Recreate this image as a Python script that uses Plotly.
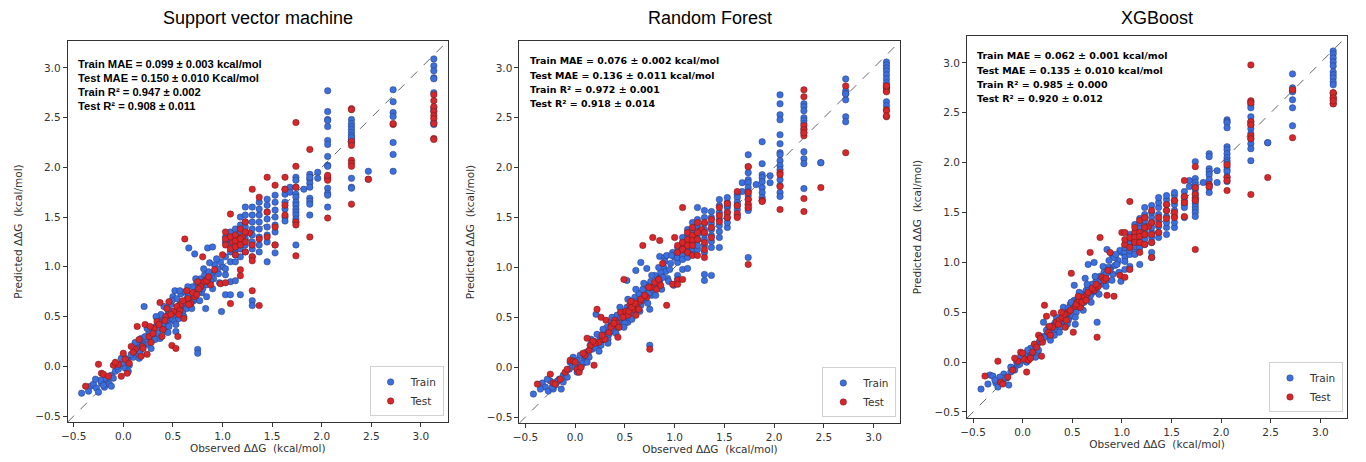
import plotly.graph_objects as go

# model names / panel titles
models = ["Support vector machine", "Random Forest", "XGBoost"]

metric_lines = [
    ["Train MAE = 0.099 ± 0.003 kcal/mol", "Test MAE = 0.150 ± 0.010 Kcal/mol",
     "Train R² = 0.947 ± 0.002", "Test R² = 0.908 ± 0.011"],
    ["Train MAE = 0.076 ± 0.002 kcal/mol", "Test MAE = 0.136 ± 0.011 kcal/mol",
     "Train R² = 0.972 ± 0.001", "Test R² = 0.918 ± 0.014"],
    ["Train MAE = 0.062 ± 0.001 kcal/mol", "Test MAE = 0.135 ± 0.010 kcal/mol",
     "Train R² = 0.985 ± 0.000", "Test R² = 0.920 ± 0.012"],
]

tick_vals = [-0.5, 0.0, 0.5, 1.0, 1.5, 2.0, 2.5, 3.0]
tick_text = ["−0.5", "0.0", "0.5", "1.0", "1.5", "2.0", "2.5", "3.0"]
axis_lims = [-0.56, 3.27]

# observed ddG, training set
obs_train = [
    -0.42, -0.33, -0.30, -0.27, -0.25, -0.22, -0.19, -0.16, -0.14, -0.12,
    -0.10, -0.08, -0.05, -0.03, 0.00, 0.02, 0.04, 0.06, 0.09, 0.11,
    0.13, 0.15, 0.17, 0.19, 0.21, 0.23, 0.25, 0.27, 0.29, 0.31,
    0.33, 0.35, 0.37, 0.39, 0.41, 0.43, 0.45, 0.47, 0.49, 0.51,
    0.52, 0.53, 0.55, 0.57, 0.59, 0.61, 0.63, 0.65, 0.67, 0.69,
    0.71, 0.73, 0.75, 0.75, 0.77, 0.79, 0.81, 0.83, 0.85, 0.87,
    0.89, 0.91, 0.93, 0.96, 0.99, 1.00, 0.66, 0.72, 0.85, 0.90,
    0.40, 0.44, 0.48, 0.56, 0.60, 0.64, 0.68, 0.30, 0.20, 0.10,
    -0.20, 0.50, 0.54, 0.58,
    0.02, 0.08, 0.14, 0.18, 0.22, 0.26, 0.32, 0.34, 0.36, 0.38,
    0.42, 0.44, 0.46, 0.48, 0.50, 0.52, 0.54, 0.56, 0.58, 0.60,
    0.62, 0.64, 0.66, 0.68, 0.70, 0.72, 0.74, 0.76, 0.78, 0.80,
    0.82, 0.84, 0.86, 0.88, 0.92, 0.95, 0.98, -0.18, -0.23, -0.06,
    -0.35, -0.28, -0.12, -0.02, 0.05, 0.12, 0.16, 0.24, 0.28, 0.33,
    0.37, 0.41, 0.45, 0.49, 0.53, 0.57, 0.61, 0.65, 0.69, 0.73,
    0.77, 0.81, 0.84, 0.87, 0.90, 0.94, 0.97, 0.46, 0.62, 0.79,
    1.03, 1.03, 1.03, 1.03, 1.03, 1.03,
    1.08, 1.08, 1.08, 1.08, 1.08, 1.08, 1.08,
    1.13, 1.13, 1.13, 1.13, 1.13, 1.13, 1.13,
    1.18, 1.18, 1.18, 1.18, 1.18, 1.18, 1.18, 1.18,
    1.23, 1.23, 1.23, 1.23, 1.23, 1.23, 1.23, 1.23,
    1.30, 1.30, 1.30, 1.30, 1.30, 1.30, 1.30, 1.30, 1.30, 1.30,
    1.37, 1.37, 1.37, 1.37, 1.37, 1.37, 1.37, 1.37,
    1.45, 1.45, 1.45, 1.45, 1.45, 1.45, 1.45, 1.45,
    1.53, 1.53, 1.53, 1.53, 1.53, 1.53, 1.53, 1.53,
    1.63, 1.63, 1.63, 1.63, 1.63, 1.63,
    1.68, 1.68,
    1.74, 1.74, 1.74, 1.74, 1.74, 1.74, 1.74, 1.74, 1.74, 1.74, 1.74, 1.74, 1.74,
    1.82,
    1.88, 1.88, 1.88, 1.88, 1.88, 1.88, 1.88, 1.88, 1.88,
    1.96, 1.96,
    2.06, 2.06, 2.06, 2.06, 2.06, 2.06, 2.06, 2.06, 2.06, 2.06, 2.06, 2.06, 2.06, 2.06, 2.06,
    2.30, 2.30, 2.30, 2.30, 2.30, 2.30, 2.30, 2.30, 2.30, 2.30, 2.30, 2.30,
    2.47, 2.47,
    2.72, 2.72, 2.72, 2.72, 2.72, 2.72, 2.72,
    3.13, 3.13, 3.13, 3.13, 3.13, 3.13, 3.13, 3.13, 3.13, 3.13,
]

pred_train_svm = [
    -0.27, -0.20, -0.18, -0.22, -0.26, -0.17, -0.21, -0.15, -0.18, -0.09,
    -0.12, -0.05, -0.03, 0.02, 0.03, -0.02, 0.06, 0.01, 0.10, 0.12,
    0.16, 0.20, 0.14, 0.24, 0.60, 0.28, 0.22, 0.31, 0.26, 0.35,
    0.40, 0.33, 0.45, 0.38, 0.48, 0.42, 0.52, 0.46, 0.55, 0.50,
    0.76, 0.35, 0.58, 0.62, 0.55, 0.65, 0.60, 0.70, 0.63, 0.72,
    0.66, 0.78, 0.17, 0.13, 0.82, 0.74, 0.86, 0.58, 0.90, 0.84,
    0.92, 0.88, 0.95, 0.93, 0.55, 1.00, 1.19, 1.13, 1.19, 1.20,
    0.43, 0.47, 0.52, 0.54, 0.62, 0.67, 0.68, 0.31, 0.21, 0.09,
    -0.19, 0.47, 0.56, 0.59,
    0.08, 0.12, 0.24, 0.28, 0.30, 0.34, 0.27, 0.48, 0.40, 0.52,
    0.36, 0.58, 0.40, 0.62, 0.70, 0.45, 0.68, 0.48, 0.73, 0.55,
    0.75, 0.58, 0.72, 0.62, 0.80, 0.68, 0.84, 0.75, 0.88, 0.78,
    0.92, 0.82, 0.95, 0.86, 1.02, 0.98, 1.05, -0.12, -0.14, 0.00,
    -0.25, -0.13, -0.20, 0.08, -0.05, 0.24, 0.08, 0.38, 0.18, 0.50,
    0.28, 0.60, 0.34, 0.66, 0.42, 0.76, 0.50, 0.80, 0.58, 0.88,
    0.66, 0.98, 0.70, 1.04, 0.78, 1.08, 0.84, 0.56, 0.64, 0.84,
    1.10, 0.98, 1.25, 0.92, 1.30, 0.72,
    1.05, 1.15, 1.22, 0.85, 1.28, 1.35, 0.72,
    1.12, 1.18, 1.25, 1.30, 1.38, 1.05, 0.86,
    1.10, 1.18, 1.24, 1.30, 1.35, 1.42, 1.50, 0.72,
    1.15, 1.22, 1.28, 1.34, 1.40, 1.45, 1.52, 1.60,
    1.10, 1.18, 1.25, 1.32, 1.38, 1.45, 1.52, 1.60, 0.66, 0.61,
    1.15, 1.22, 1.30, 1.38, 1.45, 1.52, 1.58, 1.65,
    1.05, 1.25, 1.32, 1.40, 1.48, 1.55, 1.62, 1.68,
    1.14, 1.22, 1.35, 1.42, 1.50, 1.57, 1.65, 1.72,
    1.78, 1.73, 1.65, 1.58, 1.50, 1.46,
    1.80, 1.75,
    1.90, 1.87, 1.80, 1.73, 1.70, 1.65, 1.62, 1.58, 1.55, 1.52, 1.48, 1.45, 1.22,
    1.78,
    1.93, 1.88, 1.84, 1.80, 1.69, 1.66, 1.63, 1.52, 1.90,
    1.95, 1.89,
    2.77, 2.56, 2.48, 2.47, 2.41, 2.27, 2.23, 2.11, 2.02, 2.01, 1.90, 1.79, 1.74, 1.72, 1.60,
    2.48, 2.44, 2.41, 2.38, 2.35, 2.32, 2.28, 2.25, 1.89, 1.80, 1.79, 2.30,
    1.96, 1.88,
    2.78, 2.66, 2.55, 2.51, 2.25, 2.13, 1.96,
    3.09, 3.02, 2.97, 2.90, 2.89, 2.75, 2.60, 2.57, 2.45, 2.43,
]

pred_train_rf = [
    -0.27, -0.16, -0.20, -0.24, -0.14, -0.22, -0.16, -0.12, -0.22, -0.08,
    -0.06, -0.10, 0.05, 0.04, 0.00, 0.07, -0.03, 0.02, 0.08, 0.15,
    0.13, 0.22, 0.18, 0.26, 0.53, 0.20, 0.30, 0.27, 0.35, 0.32,
    0.28, 0.40, 0.38, 0.45, 0.42, 0.50, 0.47, 0.42, 0.55, 0.52,
    0.87, 0.45, 0.60, 0.57, 0.63, 0.97, 0.66, 0.62, 0.70, 0.67,
    0.75, 0.80, 0.22, 0.58, 0.72, 0.84, 0.80, 0.90, 0.86, 0.92,
    1.00, 0.96, 0.89, 1.04, 0.82, 1.10, 1.05, 0.99, 1.11, 1.10,
    0.39, 0.46, 0.49, 0.56, 0.60, 0.64, 0.72, 0.31, 0.20, 0.11,
    -0.18, 0.50, 0.53, 0.59,
    -0.05, 0.04, 0.10, 0.25, 0.33, 0.22, 0.40, 0.33, 0.45, 0.36,
    0.52, 0.40, 0.56, 0.53, 0.44, 0.60, 0.50, 0.66, 0.55, 0.70,
    0.58, 0.74, 0.62, 0.78, 0.68, 0.82, 0.74, 0.86, 0.78, 0.92,
    0.84, 0.88, 0.95, 0.90, 1.12, 0.98, 1.15, -0.14, -0.20, -0.02,
    -0.22, -0.12, -0.15, 0.10, 0.12, 0.05, 0.28, 0.16, 0.38, 0.24,
    0.50, 0.34, 0.60, 0.40, 0.68, 0.48, 0.78, 0.56, 0.84, 0.64,
    0.92, 0.72, 1.00, 0.78, 1.06, 0.86, 1.12, 0.50, 0.66, 0.80,
    1.13, 1.05, 1.20, 0.92, 1.10, 0.88,
    1.12, 1.18, 1.25, 0.98, 1.30, 1.08, 1.22,
    1.15, 1.20, 1.27, 1.33, 1.38, 1.10, 0.99,
    1.14, 1.19, 1.25, 1.30, 1.36, 1.40, 1.45, 1.22,
    1.18, 1.22, 1.28, 1.33, 1.38, 1.42, 1.48, 1.60,
    1.15, 1.22, 1.28, 1.33, 1.38, 1.44, 1.50, 1.57, 0.87, 0.93,
    1.20, 1.26, 1.32, 1.38, 1.44, 1.50, 1.56, 0.92,
    1.20, 1.30, 1.36, 1.42, 1.48, 1.55, 1.62, 1.68,
    1.40, 1.45, 1.50, 1.55, 1.60, 1.65, 1.70, 1.62,
    1.73, 1.70, 1.65, 1.62, 1.58, 1.52,
    1.85, 1.76,
    2.13, 2.01, 1.95, 1.88, 1.85, 1.80, 1.76, 1.72, 1.68, 1.63, 1.59, 1.57, 1.10,
    1.83,
    2.26, 2.04, 1.93, 1.90, 1.86, 1.80, 1.75, 1.70, 1.67,
    1.92, 1.85,
    2.73, 2.64, 2.53, 2.48, 2.33, 2.24, 2.15, 2.13, 2.07, 2.02, 1.98, 1.88, 1.82, 1.75, 1.71,
    2.64, 2.61, 2.57, 2.50, 2.47, 2.44, 2.39, 2.35, 2.16, 2.09, 2.04, 1.79,
    2.05, 2.05,
    2.89, 2.77, 2.74, 2.68, 2.51, 2.46, 2.74,
    3.06, 3.03, 3.00, 2.97, 2.93, 2.89, 2.85, 2.80, 2.66, 2.62,
]

pred_train_xgb = [
    -0.27, -0.13, -0.14, -0.21, -0.25, -0.19, -0.12, -0.16, -0.23, -0.10,
    -0.06, -0.08, -0.03, -0.02, 0.02, 0.05, 0.00, 0.06, 0.08, 0.12,
    0.05, 0.18, 0.21, 0.22, 0.40, 0.26, 0.28, 0.33, 0.30, 0.37,
    0.31, 0.41, 0.36, 0.44, 0.40, 0.47, 0.50, 0.45, 0.52, 0.56,
    0.77, 0.38, 0.57, 0.61, 0.58, 0.66, 0.84, 0.64, 0.68, 0.72,
    0.70, 0.76, 0.40, 0.74, 0.80, 0.78, 0.85, 0.90, 0.82, 0.92,
    0.95, 0.88, 0.97, 1.02, 0.81, 1.10, 0.98, 1.00, 1.13, 1.08,
    0.42, 0.43, 0.50, 0.55, 0.62, 0.65, 0.67, 0.29, 0.22, 0.10,
    -0.20, 0.48, 0.53, 0.60,
    0.08, 0.14, 0.10, 0.26, 0.25, 0.35, 0.27, 0.45, 0.38, 0.35,
    0.50, 0.52, 0.42, 0.58, 0.47, 0.62, 0.50, 0.64, 0.58, 0.68,
    0.60, 0.72, 0.76, 0.66, 0.78, 0.72, 0.82, 0.78, 0.86, 0.84,
    0.90, 0.88, 0.95, 0.92, 1.05, 0.98, 1.12, -0.16, -0.15, 0.00,
    -0.22, -0.18, -0.05, 0.06, 0.12, 0.18, 0.12, 0.32, 0.22, 0.40,
    0.30, 0.55, 0.38, 0.60, 0.45, 0.70, 0.52, 0.78, 0.60, 0.86,
    0.68, 0.96, 0.76, 1.02, 0.82, 1.08, 0.90, 0.54, 0.64, 0.82,
    1.10, 1.05, 1.18, 0.93, 1.15, 1.01,
    1.08, 1.17, 1.22, 0.96, 1.28, 1.12, 1.20,
    1.13, 1.20, 1.26, 1.30, 1.38, 1.08, 1.16,
    1.15, 1.20, 1.24, 1.30, 1.35, 1.40, 1.44, 0.98,
    1.18, 1.23, 1.28, 1.32, 1.37, 1.42, 1.48, 1.55,
    1.20, 1.25, 1.30, 1.35, 1.40, 1.45, 1.50, 1.57, 1.05, 1.10,
    1.25, 1.30, 1.36, 1.42, 1.48, 1.55, 1.60, 1.65,
    1.28, 1.35, 1.40, 1.46, 1.52, 1.58, 1.63, 1.67,
    1.35, 1.40, 1.46, 1.52, 1.58, 1.62, 1.67, 1.70,
    1.71, 1.66, 1.62, 1.58, 1.55, 1.45,
    1.82, 1.76,
    2.01, 1.84, 1.80, 1.77, 1.73, 1.69, 1.65, 1.62, 1.59, 1.56, 1.53, 1.50, 1.46,
    1.80,
    2.09, 2.06, 1.94, 1.91, 1.88, 1.83, 1.78, 1.75, 1.70,
    1.92, 1.80,
    2.43, 2.41, 2.40, 2.35, 2.16, 2.13, 2.09, 2.05, 2.02, 2.00, 1.96, 1.93, 1.91, 1.86, 1.81,
    2.61, 2.58, 2.55, 2.46, 2.41, 2.38, 2.34, 2.29, 2.24, 2.19, 2.14, 2.02,
    2.20, 2.20,
    2.89, 2.75, 2.72, 2.71, 2.63, 2.55, 2.37,
    3.12, 3.09, 3.05, 3.01, 2.97, 2.91, 2.88, 2.85, 2.81, 2.78,
]

# observed ddG, test set
obs_test = [
    -0.38, -0.25, -0.22, -0.20, -0.15, -0.10, -0.05, -0.02, 0.00, 0.02,
    0.04, 0.06, 0.12, 0.14, 0.16, 0.19, 0.22, 0.24, 0.26, 0.28,
    0.31, 0.34, 0.37, 0.40, 0.43, 0.46, 0.49, 0.51, 0.53, 0.55,
    0.58, 0.61, 0.62, 0.65, 0.68, 0.72, 0.75, 0.78, 0.80, 0.82,
    0.85, 0.88, 0.92, 0.98, 1.00,
    0.10, 0.20, 0.30, 0.36, 0.42, 0.48, 0.54, 0.57, 0.60, 0.66,
    0.70, 0.76, 0.84, 1.10, 1.20, 1.27, 1.15,
    -0.08, 0.08, 0.18, 0.27, 0.39, 0.44, 0.56, 0.64, 0.74, 0.86,
    1.03, 1.03, 1.03, 1.03,
    1.08, 1.08, 1.08, 1.08,
    1.13, 1.13, 1.13, 1.13,
    1.18, 1.18, 1.18, 1.18, 1.18,
    1.23, 1.23, 1.23, 1.23,
    1.30, 1.30, 1.30, 1.30, 1.30,
    1.37, 1.37, 1.37,
    1.45, 1.45, 1.45,
    1.53, 1.53, 1.53,
    1.63, 1.63, 1.63, 1.63,
    1.74, 1.74, 1.74, 1.74, 1.74, 1.74,
    1.88, 1.88,
    2.06, 2.06, 2.06, 2.06,
    2.30, 2.30, 2.30, 2.30, 2.30, 2.30, 2.30, 2.30,
    2.47,
    2.72, 2.72,
    3.13, 3.13, 3.13, 3.13, 3.13, 3.13, 3.13, 3.13, 3.13,
]

pred_test_svm = [
    -0.20, 0.02, -0.07, -0.08, -0.10, 0.01, 0.02, -0.10, 0.13, 0.07,
    -0.07, 0.03, 0.17, 0.40, 0.27, 0.20, 0.42, 0.12, 0.30, 0.24,
    0.38, 0.45, 0.64, 0.37, 0.50, 0.65, 0.21, 0.55, 0.18, 0.30,
    0.62, 0.48, 1.28, 0.68, 0.63, 0.70, 0.85, 0.80, 1.10, 0.85,
    0.88, 0.82, 0.97, 0.83, 1.12,
    0.14, 0.18, 0.33, 0.42, 0.46, 0.52, 0.60, 0.56, 0.66, 0.62,
    0.74, 0.78, 0.86, 1.25, 1.30, 1.34, 1.22,
    0.04, 0.20, 0.10, 0.40, 0.30, 0.58, 0.52, 0.76, 0.72, 0.90,
    1.35, 1.28, 1.22, 0.84,
    1.30, 1.18, 0.63, 1.53,
    1.32, 1.26, 1.20, 1.12,
    1.38, 1.28, 0.97, 0.91, 1.22,
    1.45, 1.35, 1.25, 1.15,
    1.78, 1.22, 1.10, 1.06, 0.76,
    1.70, 1.28, 0.61,
    1.90, 1.55, 1.30,
    1.82, 1.22, 1.40,
    1.90, 1.78, 1.62, 1.52,
    2.45, 2.01, 1.80, 1.45, 1.42, 1.11,
    2.18, 1.30,
    1.89, 1.87, 1.49, 1.92,
    2.59, 2.58, 2.26, 2.22, 2.07, 2.04, 1.63, 2.01,
    1.88,
    2.43, 2.44,
    2.73, 2.67, 2.61, 2.56, 2.52, 2.49, 2.44, 2.29, 2.28,
]

pred_test_rf = [
    -0.17, -0.07, -0.16, -0.17, -0.12, -0.05, 0.07, 0.06, 0.05, -0.02,
    -0.05, 0.00, 0.29, 0.17, 0.22, 0.02, 0.58, 0.25, 0.50, 0.28,
    0.47, 0.35, 0.42, 0.47, 0.30, 0.55, 0.88, 0.56, 0.52, 0.62,
    0.58, 0.52, 0.62, 0.66, 1.22, 0.70, 0.18, 1.30, 0.85, 0.78,
    1.27, 1.04, 0.62, 0.83, 1.30,
    0.12, 0.24, 0.28, 0.40, 0.44, 0.50, 0.56, 0.60, 0.64, 0.68,
    0.72, 0.80, 0.88, 1.22, 1.30, 1.38, 1.26,
    -0.02, 0.14, 0.26, 0.32, 0.44, 0.40, 0.66, 0.58, 0.80, 0.82,
    1.15, 1.22, 0.87, 0.83,
    1.25, 1.18, 0.88, 1.60,
    1.28, 1.22, 1.35, 1.15,
    1.32, 1.27, 1.22, 1.40, 1.12,
    1.45, 1.35, 1.28, 1.12,
    1.45, 1.35, 1.25, 1.18, 1.10,
    1.48, 1.40, 1.30,
    1.60, 1.52, 1.46,
    1.64, 1.55, 1.50,
    1.76, 1.54, 1.50, 1.62,
    2.01, 1.75, 1.68, 1.63, 1.60, 1.03,
    1.67, 1.66,
    1.95, 1.93, 1.81, 1.58,
    2.78, 2.71, 2.42, 2.38, 2.32, 1.69, 1.56, 2.35,
    1.80,
    2.82, 2.15,
    2.82, 2.80, 2.77, 2.76, 2.58, 2.57, 2.51, 2.52, 2.82,
]

pred_test_xgb = [
    -0.14, 0.01, -0.20, -0.22, -0.15, -0.08, 0.01, 0.10, 0.09, 0.03,
    -0.10, 0.02, 0.18, 0.15, 0.27, 0.06, 0.57, 0.46, 0.30, 0.27,
    0.49, 0.40, 0.42, 0.45, 0.35, 0.50, 0.89, 0.30, 0.56, 0.60,
    0.55, 0.63, 0.65, 0.68, 1.10, 0.72, 0.25, 1.25, 0.85, 0.82,
    0.67, 1.10, 0.66, 0.87, 1.30,
    0.10, 0.20, 0.35, 0.38, 0.48, 0.52, 0.58, 0.62, 0.60, 0.70,
    0.74, 0.76, 0.84, 1.24, 1.28, 1.36, 1.22,
    0.04, 0.04, 0.24, 0.36, 0.50, 0.42, 0.66, 0.62, 0.78, 0.92,
    1.18, 1.23, 0.85, 1.30,
    1.25, 1.15, 0.93, 1.61,
    1.30, 1.25, 1.20, 1.35,
    1.30, 1.26, 1.20, 1.42, 1.10,
    1.45, 1.35, 1.28, 1.18,
    1.52, 1.40, 1.28, 1.20, 1.05,
    1.45, 1.38, 1.30,
    1.58, 1.52, 1.44,
    1.62, 1.50, 1.45,
    1.82, 1.66, 1.46, 1.60,
    1.96, 1.75, 1.68, 1.64, 1.62, 1.13,
    1.78, 1.76,
    1.98, 1.85, 1.82, 1.72,
    2.62, 2.60, 2.41, 2.38, 2.27, 2.24, 1.68, 2.98,
    1.85,
    2.73, 2.25,
    2.70, 2.69, 2.65, 2.63, 2.59, 2.59, 2.70, 2.65, 2.62,
]

pred_train = [pred_train_svm, pred_train_rf, pred_train_xgb]
pred_test = [pred_test_svm, pred_test_rf, pred_test_xgb]

# panel boxes in paper coords (x0, x1, y0, y1); the page body adds an 8px offset
panels = [
    (0.0388, 0.3184, 0.1039, 0.9286),
    (0.3712, 0.6515, 0.1017, 0.9286),
    (0.7006, 0.9802, 0.1126, 0.9394),
]
text_fonts = [("Liberation Sans", 11.2), ("DejaVu Sans", 9.45), ("DejaVu Sans", 9.5)]
text_top = [0.94, 0.948, 0.948]

blue = "#3a6fe0"
red = "#d8262a"
tick_font = dict(family="DejaVu Sans", size=10.5, color="#333333")
label_font = dict(family="DejaVu Sans", size=10.5, color="#333333")

fig = go.Figure()
annotations = []

for i, name in enumerate(models):
    sfx = "" if i == 0 else str(i + 1)
    xa, ya = "x" + sfx, "y" + sfx
    leg = "legend" + sfx
    x0, x1, y0, y1 = panels[i]

    # identity line across the whole axis range
    fig.add_trace(go.Scatter(
        x=axis_lims, y=axis_lims, mode="lines", xaxis=xa, yaxis=ya,
        line=dict(color="#666666", width=1, dash="dash"),
        showlegend=False, hoverinfo="skip"))

    fig.add_trace(go.Scatter(
        x=obs_train, y=pred_train[i], mode="markers", name="Train",
        xaxis=xa, yaxis=ya, legend=leg,
        marker=dict(size=6.5, color=blue, line=dict(color="#2a2a55", width=0.4))))
    fig.add_trace(go.Scatter(
        x=obs_test, y=pred_test[i], mode="markers", name="Test",
        xaxis=xa, yaxis=ya, legend=leg,
        marker=dict(size=6.5, color=red, line=dict(color="#4a1a1a", width=0.4))))

    ax = dict(range=axis_lims, tickvals=tick_vals, ticktext=tick_text,
              showgrid=False, zeroline=False, showline=True, mirror=True,
              linecolor="#333333", linewidth=1, ticks="outside", ticklen=4,
              tickcolor="#333333", tickfont=tick_font)
    fig.update_layout({
        "xaxis" + sfx: dict(ax, domain=[x0, x1], anchor=ya,
                            title=dict(text="Observed ΔΔG  (kcal/mol)", standoff=4,
                                       font=label_font)),
        "yaxis" + sfx: dict(ax, domain=[y0, y1], anchor=xa,
                            title=dict(text="Predicted ΔΔG  (kcal/mol)", standoff=10,
                                       font=label_font)),
        leg: dict(x=x1 - 0.003, y=y0 + 0.012, xanchor="right", yanchor="bottom",
                  bgcolor="white", bordercolor="#d0d0d0", borderwidth=1,
                  font=dict(family="DejaVu Sans", size=10.5, color="#333333"),
                  tracegroupgap=0, itemwidth=30),
    })

    annotations.append(dict(
        text=name, xref="paper", yref="paper", x=(x0 + x1) / 2, y=0.978,
        xanchor="center", yanchor="middle", showarrow=False,
        font=dict(family="Liberation Sans", size=18, color="black")))

    fam, size = text_fonts[i]
    for k, line in enumerate(metric_lines[i]):
        annotations.append(dict(
            text="<b>" + line + "</b>", xref=xa + " domain", yref=ya + " domain",
            x=0.022, y=text_top[i] - k * 0.0372, xanchor="left", yanchor="middle",
            showarrow=False, font=dict(family=fam, size=size, color="black")))

fig.update_layout(
    width=1366, height=462,
    margin=dict(l=0, r=0, t=0, b=0),
    paper_bgcolor="white", plot_bgcolor="white",
    annotations=annotations,
)

fig.write_html("out.html")
